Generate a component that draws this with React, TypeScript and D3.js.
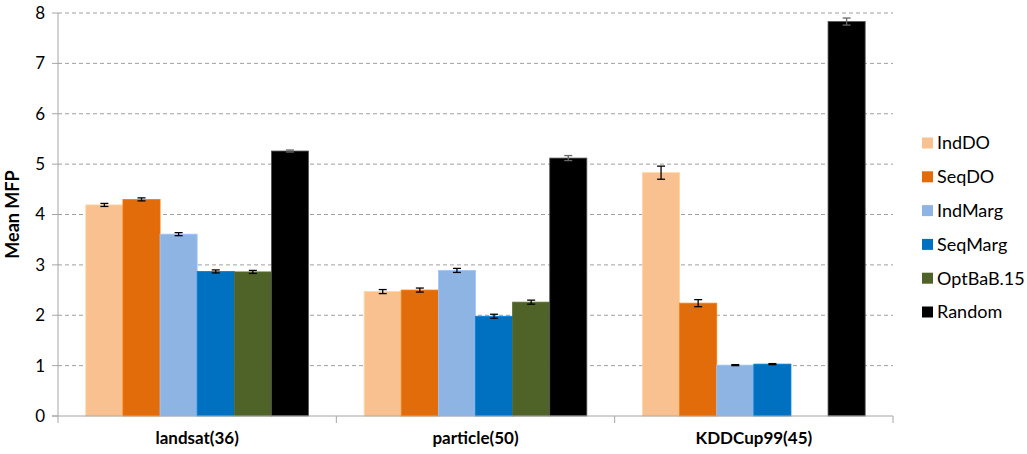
import React from "react";
import * as d3 from "d3";

const categories = ["landsat(36)", "particle(50)", "KDDCup99(45)"];
const series = ["IndDO", "SeqDO", "IndMarg", "SeqMarg", "OptBaB.15", "Random"];
const colors = ["#F9C090", "#E36C0A", "#8EB4E3", "#0070C0", "#4F6228", "#000000"];
// values[series][category]; null = not available
const values: (number | null)[][] = [
  [4.19, 2.47, 4.83],
  [4.30, 2.50, 2.24],
  [3.61, 2.89, 1.01],
  [2.87, 1.98, 1.03],
  [2.86, 2.26, null],
  [5.26, 5.12, 7.83],
];
const errors: (number | null)[][] = [
  [0.03, 0.04, 0.13],
  [0.03, 0.04, 0.07],
  [0.03, 0.04, 0.01],
  [0.03, 0.04, 0.01],
  [0.03, 0.04, null],
  [0.02, 0.05, 0.07],
];
const yTicks = [0, 1, 2, 3, 4, 5, 6, 7, 8];

export default function App() {
  const W = 1027, H = 454;
  const left = 58, right = 893, top = 13, bottom = 416;
  const x0 = d3.scaleBand<string>().domain(categories).range([left, right]).paddingInner(0).paddingOuter(0);
  const x1 = d3.scaleBand<string>().domain(series).range([0, x0.bandwidth()]).paddingInner(0).paddingOuter(0.75);
  const y = d3.scaleLinear().domain([0, 8]).range([bottom, top]);
  const font = "Lato, 'Open Sans', sans-serif";
  return (
    <svg width={W} height={H} style={{ position: "absolute", left: 0, top: 0, background: "#fff" }} fontFamily={font}>
      {yTicks.map((t) => (
        <g key={t}>
          {t > 0 && (
            <line x1={left} x2={right} y1={y(t)} y2={y(t)} stroke="#A0A0A0" strokeWidth={1} strokeDasharray="4,3" />
          )}
          <line x1={left - 6} x2={left} y1={y(t)} y2={y(t)} stroke="#A6A6A6" strokeWidth={1} />
          <text x={45} y={y(t)} dy="0.35em" textAnchor="end" fontSize={17} fill="#000">{t}</text>
        </g>
      ))}
      {series.map((s, si) =>
        categories.map((c, ci) => {
          const v = values[si][ci];
          if (v == null) return null;
          const bx = (x0(c) as number) + (x1(s) as number);
          const bw = x1.bandwidth();
          return (
            <rect key={s + c} x={bx} y={y(v)} width={bw} height={y(0) - y(v)} fill={colors[si]}
              stroke={si === 5 ? "#555" : d3.color(colors[si])!.brighter(0.3).toString()} strokeWidth={0.8} />
          );
        })
      )}
      {series.map((s, si) =>
        categories.map((c, ci) => {
          const v = values[si][ci];
          const e = errors[si][ci];
          if (v == null || e == null) return null;
          const cx = (x0(c) as number) + (x1(s) as number) + x1.bandwidth() / 2;
          const cap = 4;
          return (
            <g key={"e" + s + c} stroke={si === 5 ? "#666" : "#000"} strokeWidth={1.3}>
              <line x1={cx} x2={cx} y1={y(v + e)} y2={y(v - e)} />
              <line x1={cx - cap} x2={cx + cap} y1={y(v + e)} y2={y(v + e)} />
              <line x1={cx - cap} x2={cx + cap} y1={y(v - e)} y2={y(v - e)} />
            </g>
          );
        })
      )}
      <line x1={left} x2={left} y1={top} y2={bottom} stroke="#A6A6A6" strokeWidth={1} />
      <line x1={left - 6} x2={right} y1={bottom} y2={bottom} stroke="#A6A6A6" strokeWidth={1.2} />
      {[...categories.map((c) => x0(c) as number), right].map((xv, i) => (
        <line key={"xt" + i} x1={xv} x2={xv} y1={bottom} y2={bottom + 7} stroke="#A6A6A6" strokeWidth={1} />
      ))}
      {categories.map((c) => (
        <text key={c} x={(x0(c) as number) + x0.bandwidth() / 2} y={444} textAnchor="middle" fontSize={17} fontWeight="bold" fill="#000">{c}</text>
      ))}
      <text transform={`translate(18.5,${(top + bottom) / 2}) rotate(-90)`} textAnchor="middle" fontSize={18} fontWeight="bold" fill="#000">Mean MFP</text>
      {series.map((s, si) => (
        <g key={"lg" + s} transform={`translate(922,${143 + si * 33.8})`}>
          <rect x={0} y={-5.5} width={11} height={11} fill={colors[si]} />
          <text x={15} y={0} dy="0.35em" fontSize={18} fill="#000">{s}</text>
        </g>
      ))}
    </svg>
  );
}
